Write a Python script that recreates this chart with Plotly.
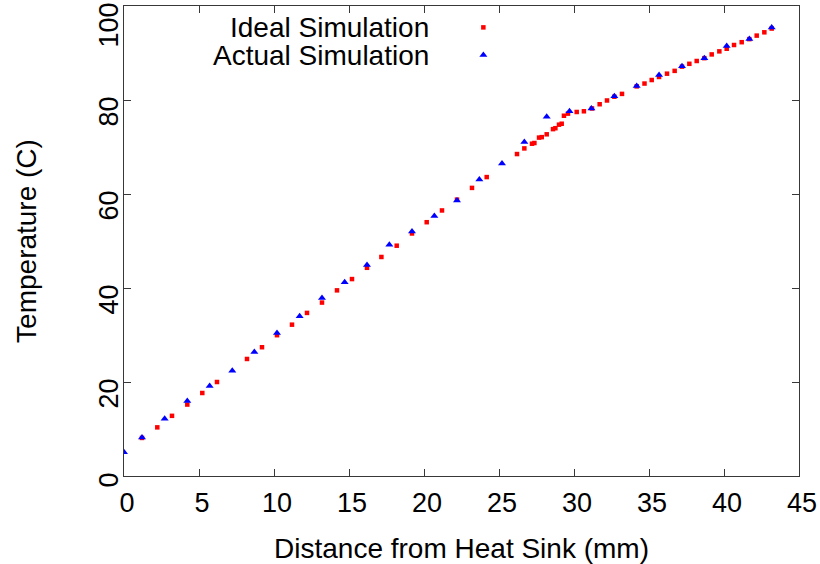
import plotly.graph_objects as go

# ---- data ----
ideal_x = [1.2, 2.22, 3.2, 4.22, 5.22, 6.2, 8.2, 9.2, 10.2, 11.2, 12.2, 13.2, 14.2, 15.2,
           16.2, 17.16, 18.18, 19.2, 20.18, 21.2, 22.2, 23.2, 24.18, 26.2, 26.69, 27.2,
           27.36, 27.67, 27.85, 28.18, 28.6, 28.76, 29.0, 29.18, 29.33, 29.6, 30.18, 30.66,
           31.2, 31.71, 32.2, 32.69, 33.2, 34.18, 34.7, 35.18, 35.67, 36.2, 36.71, 37.2,
           37.69, 38.18, 38.69, 39.18, 39.69, 40.18, 40.67, 41.18, 41.69, 42.18, 42.69, 43.18]
ideal_y = [8.1, 10.35, 12.8, 15.2, 17.66, 20.0, 24.9, 27.4, 29.96, 32.2, 34.7, 36.9, 39.5, 41.9,
           44.3, 46.6, 49.0, 51.6, 54.0, 56.5, 58.8, 61.3, 63.6, 68.5, 69.7, 70.7,
           70.85, 72.0, 72.1, 72.7, 73.8, 74.0, 74.75, 74.95, 76.65, 77.1, 77.45, 77.6,
           78.2, 79.1, 79.9, 80.7, 81.3, 82.9, 83.5, 84.25, 84.9, 85.6, 86.2, 87.1,
           87.7, 88.3, 88.9, 89.7, 90.35, 90.9, 91.7, 92.3, 92.95, 93.7, 94.4, 95.2]

actual_x = [0, 1.2, 2.71, 4.22, 5.71, 7.22, 8.69, 10.2, 11.71, 13.2, 14.71, 16.2, 17.69, 19.2,
            20.69, 22.2, 23.69, 25.2, 26.69, 28.18, 29.7, 31.16, 32.69, 34.18, 35.67, 37.2,
            38.69, 40.18, 41.69, 43.18]
actual_y = [5.04, 8.2, 12.2, 15.96, 19.15, 22.4, 26.4, 30.4, 34.0, 37.85, 41.25, 44.9, 49.2, 52.0,
            55.3, 58.6, 63.1, 66.5, 71.05, 76.45, 77.6, 78.2, 80.8, 83.0, 85.3, 87.2,
            88.9, 91.5, 93.0, 95.4]

x_ticks = [0, 5, 10, 15, 20, 25, 30, 35, 40, 45]
y_ticks = [0, 20, 40, 60, 80, 100]
y_tick_labels = ["0", "20", "40", "60", "80", "100"]

series_names = ["Ideal Simulation", "Actual Simulation"]

FONT = "Liberation Sans, Arial, sans-serif"
FS = 28
FS_TICK = 27
AXC = "#383838"

# pad rotated y labels so all have same length (right-justified look)
maxlen = max(len(s) for s in y_tick_labels)
y_text = ["\u00a0\u00a0" * (maxlen - len(s)) + s for s in y_tick_labels]

SQ = dict(symbol="square", size=4.5, color="#ff0000", line=dict(width=0))
TRI = dict(symbol="triangle-up", size=7, color="#0000ff", line=dict(width=0))

fig = go.Figure()
fig.add_trace(go.Scatter(x=ideal_x, y=ideal_y, mode="markers", name=series_names[0],
                         marker=SQ, showlegend=False))
fig.add_trace(go.Scatter(x=actual_x, y=actual_y, mode="markers", name=series_names[1],
                         marker=TRI, showlegend=False))

# legend keys (gnuplot style: text then symbol) on hidden overlay axes
key_x = 0.5324
key_y = [0.9545, 0.8956]
fig.add_trace(go.Scatter(x=[key_x], y=[key_y[0]], xaxis="x2", yaxis="y2", mode="markers",
                         marker=SQ, showlegend=False, hoverinfo="skip"))
fig.add_trace(go.Scatter(x=[key_x], y=[key_y[1]], xaxis="x2", yaxis="y2", mode="markers",
                         marker=TRI, showlegend=False, hoverinfo="skip"))
for name, ky in zip(series_names, key_y):
    fig.add_annotation(x=0.4545, y=ky, xref="paper", yref="paper", text=name, showarrow=False,
                       xanchor="right", yanchor="middle", font=dict(family=FONT, size=FS, color="#000"))

fig.update_layout(
    width=820, height=564, autosize=False,
    margin=dict(l=124, r=21, t=6, b=88),
    paper_bgcolor="white", plot_bgcolor="white",
    font=dict(family=FONT, size=FS, color="#000"),
    xaxis=dict(range=[0, 45], tickvals=x_ticks, ticks="inside", ticklen=7, tickcolor=AXC,
               tickfont=dict(size=FS_TICK),
               showline=True, linecolor=AXC, linewidth=1, mirror="ticks", showgrid=False,
               zeroline=False, ticklabelshift=3, ticklabelstandoff=3,
               title=dict(text="Distance from Heat Sink (mm)", standoff=20,
                          font=dict(family=FONT, size=FS)),
               automargin=False),
    yaxis=dict(range=[0, 100], tickvals=y_ticks, ticktext=y_text, tickangle=-90,
               ticks="inside", ticklen=7, tickcolor=AXC, tickfont=dict(size=FS_TICK),
               showline=True, linecolor=AXC, linewidth=1, mirror="ticks", showgrid=False,
               zeroline=False, ticklabelshift=23, ticklabelstandoff=-6,
               title=dict(text="Temperature (C)", standoff=49, font=dict(family=FONT, size=FS)),
               automargin=False),
    xaxis2=dict(overlaying="x", range=[0, 1], visible=False, fixedrange=True),
    yaxis2=dict(overlaying="y", range=[0, 1], visible=False, fixedrange=True),
)

fig.write_html("out.html", config={"displayModeBar": False},
               post_script="document.body.style.margin='0';")
